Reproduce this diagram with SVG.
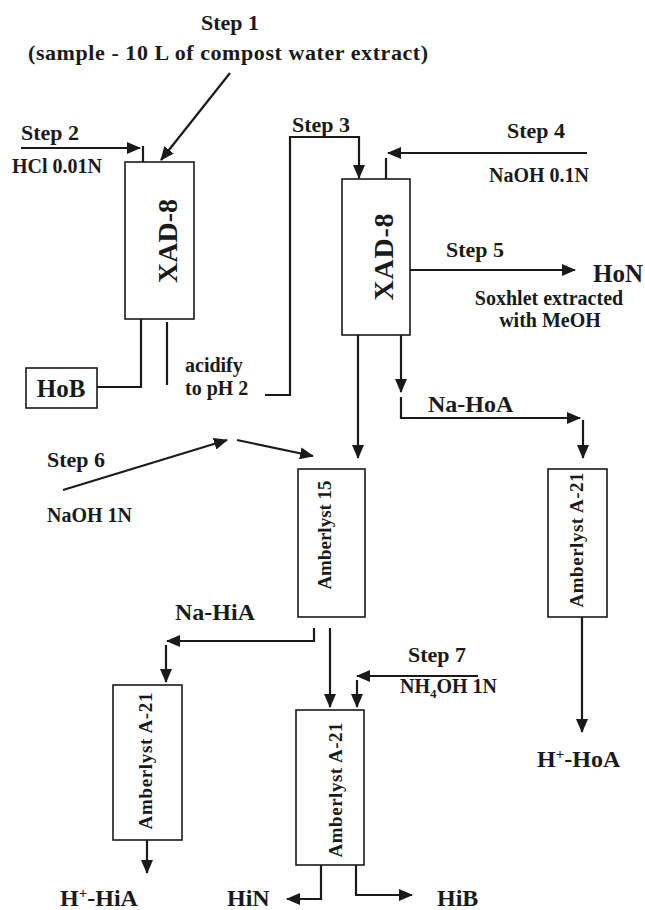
<svg xmlns="http://www.w3.org/2000/svg" width="645" height="910" viewBox="0 0 645 910">
<style>
text{font-family:"Liberation Serif","Times New Roman",serif;font-weight:bold;fill:#1a1a1a}
.lbl{font-size:22px}
.sm{font-size:20px}
.big{font-size:25px}
.prod{font-size:24px}
.xad{font-size:28px}
.amb{font-size:19px}
.box{fill:#fff;stroke:#1a1a1a;stroke-width:1.6}
.ln{fill:none;stroke:#1a1a1a;stroke-width:2.2}
</style>
<defs>
<marker id="ah" markerUnits="userSpaceOnUse" markerWidth="14" markerHeight="12" refX="13" refY="6" orient="auto" viewBox="0 0 14 12">
<path d="M0,0 L14,6 L0,12 z" fill="#1a1a1a"/>
</marker>
</defs>
<rect width="645" height="910" fill="#fff"/>

<g id="step1-label">
<text class="lbl" x="230" y="30" text-anchor="middle">Step 1</text>
<text class="lbl" x="28" y="60" font-size="23" textLength="400">(sample - 10 L of compost water extract)</text>
</g>
<g id="step2-label">
<text class="lbl" x="21" y="140">Step 2</text>
<text class="sm" x="12" y="173">HCl 0.01N</text>
</g>
<g id="xad8-left">
<rect class="box" x="125" y="162" width="69" height="157"/>
<text class="xad" transform="translate(177,241) rotate(-90)" text-anchor="middle" textLength="84">XAD-8</text>
</g>
<g id="hob">
<rect class="box" x="26" y="368" width="71" height="40"/>
<text class="big" x="61" y="397" text-anchor="middle">HoB</text>
</g>
<g id="acidify">
<text class="sm" x="185" y="372">acidify</text>
<text class="sm" x="185" y="395">to pH 2</text>
</g>
<g id="step3-label">
<text class="lbl" x="292" y="132">Step 3</text>
</g>
<g id="step4-label">
<text class="lbl" x="507" y="138">Step 4</text>
<text class="sm" x="489" y="182">NaOH 0.1N</text>
</g>
<g id="xad8-right">
<rect class="box" x="342" y="179" width="68" height="156"/>
<text class="xad" transform="translate(393,257) rotate(-90)" text-anchor="middle" textLength="87">XAD-8</text>
</g>
<g id="step5">
<text class="lbl" x="446" y="257" font-size="24">Step 5</text>
<text class="big" x="593" y="282">HoN</text>
<text class="sm" x="549" y="305" text-anchor="middle">Soxhlet extracted</text>
<text class="sm" x="550" y="327" text-anchor="middle">with MeOH</text>
</g>
<g id="na-hoa-label">
<text class="prod" x="428" y="412">Na-HoA</text>
</g>
<g id="step6-label">
<text class="lbl" x="47" y="467">Step 6</text>
<text class="sm" x="47" y="522">NaOH 1N</text>
</g>
<g id="amberlyst15">
<rect class="box" x="298" y="469" width="67" height="148"/>
<text class="amb" font-size="15" transform="translate(331,535) rotate(-90)" text-anchor="middle">Amberlyst 15</text>
</g>
<g id="a21-right">
<rect class="box" x="548" y="469" width="59" height="148"/>
<text class="amb" transform="translate(583,540) rotate(-90)" text-anchor="middle" textLength="135">Amberlyst A-21</text>
</g>
<g id="h-hoa">
<text class="prod" x="537" y="767">H<tspan font-size="15" dy="-8">+</tspan><tspan dy="8">-HoA</tspan></text>
</g>
<g id="na-hia-label">
<text class="prod" x="175" y="620">Na-HiA</text>
</g>
<g id="step7-label">
<text class="lbl" x="408" y="662">Step 7</text>
<text class="sm" x="400" y="693">NH<tspan font-size="13" dy="5">4</tspan><tspan dy="-5">OH 1N</tspan></text>
</g>
<g id="a21-left">
<rect class="box" x="113" y="685" width="69" height="155"/>
<text class="amb" transform="translate(152,761) rotate(-90)" text-anchor="middle" textLength="137">Amberlyst A-21</text>
</g>
<g id="a21-bottom">
<rect class="box" x="296" y="710" width="68" height="155"/>
<text class="amb" transform="translate(342,790) rotate(-90)" text-anchor="middle" textLength="135">Amberlyst A-21</text>
</g>
<g id="h-hia">
<text class="prod" x="60" y="906">H<tspan font-size="15" dy="-8">+</tspan><tspan dy="8">-HiA</tspan></text>
</g>
<g id="hin">
<text class="prod" x="227" y="906">HiN</text>
</g>
<g id="hib">
<text class="prod" x="437" y="906">HiB</text>
</g>

<g id="connectors">
<line class="ln" x1="230" y1="73" x2="161" y2="160" marker-end="url(#ah)"/>
<line class="ln" x1="21" y1="148" x2="140" y2="148" marker-end="url(#ah)"/>
<line class="ln" x1="143" y1="146" x2="143" y2="162"/>
<polyline class="ln" points="141,319 141,387 97,387"/>
<line class="ln" x1="167" y1="322" x2="167" y2="385"/>
<polyline class="ln" points="265,395 290,395 290,137 359,137 359,178" marker-end="url(#ah)"/>
<line class="ln" x1="587" y1="153" x2="388" y2="153" marker-end="url(#ah)"/>
<line class="ln" x1="386" y1="158" x2="386" y2="179"/>
<line class="ln" x1="410" y1="270" x2="575" y2="270" marker-end="url(#ah)"/>
<line class="ln" x1="358" y1="335" x2="358" y2="458" marker-end="url(#ah)"/>
<line class="ln" x1="401" y1="335" x2="401" y2="392" marker-end="url(#ah)"/>
<polyline class="ln" points="401,397 401,418 580,418" marker-end="url(#ah)"/>
<line class="ln" x1="583" y1="420" x2="583" y2="458" marker-end="url(#ah)"/>
<line class="ln" x1="63" y1="490" x2="227" y2="440" marker-end="url(#ah)"/>
<line class="ln" x1="237" y1="440" x2="313" y2="456" marker-end="url(#ah)"/>
<line class="ln" x1="582" y1="617" x2="582" y2="732" marker-end="url(#ah)"/>
<polyline class="ln" points="314,628 314,641 167,641" marker-end="url(#ah)"/>
<line class="ln" x1="166" y1="645" x2="166" y2="682" marker-end="url(#ah)"/>
<line class="ln" x1="330" y1="628" x2="330" y2="707" marker-end="url(#ah)"/>
<line class="ln" x1="478" y1="676" x2="357" y2="676" marker-end="url(#ah)"/>
<line class="ln" x1="357" y1="680" x2="357" y2="707" marker-end="url(#ah)"/>
<line class="ln" x1="147" y1="840" x2="147" y2="873" marker-end="url(#ah)"/>
<polyline class="ln" points="321,865 321,899 287,899" marker-end="url(#ah)"/>
<polyline class="ln" points="356,865 356,895 412,895" marker-end="url(#ah)"/>
</g>
</svg>
